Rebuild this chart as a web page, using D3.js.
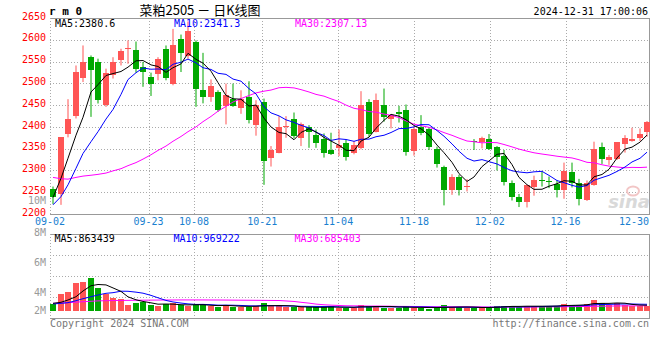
<!DOCTYPE html>
<html><head><meta charset="utf-8">
<script src="https://cdn.jsdelivr.net/npm/d3@7/dist/d3.min.js"></script>
<style>body{margin:0;background:#fff}svg{display:block}</style>
</head><body>
<svg id="c" width="660" height="360"></svg>
<script>
const dates = ["09-02","09-03","09-04","09-05","09-06","09-09","09-10","09-11","09-12","09-13","09-18","09-19","09-20","09-23","09-24","09-25","09-26","09-27","09-30",
"10-08","10-09","10-10","10-11","10-14","10-15","10-16","10-17","10-18","10-21","10-22","10-23","10-24","10-25","10-28","10-29","10-30","10-31",
"11-01","11-04","11-05","11-06","11-07","11-08","11-11","11-12","11-13","11-14","11-15","11-18","11-19","11-20","11-21","11-22","11-25","11-26","11-27","11-28","11-29",
"12-02","12-03","12-04","12-05","12-06","12-09","12-10","12-11","12-12","12-13","12-16","12-17","12-18","12-19","12-20","12-23","12-24","12-25","12-26","12-27","12-30","12-31"];
const open = [2258,2245.7,2383.6,2424.7,2513,2559.6,2548,2450,2520,2552.8,2578,2575.6,2537.5,2514,2522,2579.4,2498,2600.8,2562,2594.7,2484,2469,2479,2448.4,2465,2443.8,2469,2404,2456,2329.5,2341,2400,2417.9,2375,2400,2381,2372,2347,2350.8,2364,2339.4,2352.3,2456,2389,2450,2418,2434.7,2438.5,2344.7,2400.4,2395,2349,2307.4,2254,2285.3,2261,2368.4,2366,2372,2354.6,2334,2272.3,2240,2226.6,2262,2278.4,2276.9,2269.3,2254,2296,2270.8,2231,2265.5,2353,2324.2,2326.4,2360.7,2367.6,2375.2,2387.4];
const high = [2263,2376.7,2463.6,2541,2587,2564,2556.6,2533.7,2560,2579.4,2598.5,2596,2549,2524.6,2560,2587,2625,2612,2642,2598.5,2570,2509,2484,2499.4,2499.4,2484,2504.8,2461.3,2465,2356,2424.7,2424.7,2433,2410,2404,2394,2385,2386.6,2394,2370,2367.6,2482,2463.6,2476.6,2488,2428.6,2448.4,2451.4,2400.4,2427,2398,2354.6,2311,2291.4,2290,2280,2372,2377.5,2383.6,2356,2347,2277,2246,2267,2288,2297.5,2286,2277,2318,2318,2280.7,2277,2366,2364,2335.6,2364.5,2381,2398,2396.5,2413.3];
const low = [2223,2221,2376,2419.4,2503,2423,2453.7,2446,2511,2541,2545,2524.6,2492,2471,2507,2507,2495.6,2526,2556.6,2446,2454,2457.5,2434.7,2405.7,2446,2430,2408,2379.8,2267,2309,2339.4,2375,2373.7,2356,2352,2352,2329.5,2335.6,2333,2322.6,2337,2348.5,2377.5,2387.4,2412,2396.5,2410,2334,2334,2381,2347,2306.6,2219.8,2244,2242.6,2251.8,2347,2350.8,2347,2300,2265.5,2231,2216,2215,2242,2263,2259.4,2238,2235,2261,2219.8,2230,2265,2315,2312.7,2324,2341,2366,2367.6,2377.5];
const close = [2240,2376.7,2417.9,2526,2550,2530,2461,2523,2548,2574,2580,2533.7,2526,2498,2556,2512.4,2587,2569.5,2620,2486.5,2469,2494,2438.5,2473,2448.4,2463.6,2415.6,2450,2322.6,2347,2400.4,2402.6,2379.8,2406.5,2389,2364,2339.4,2338.6,2358.4,2332,2358.4,2450,2383,2461,2423,2427,2429.3,2341.7,2395,2385,2354.6,2315,2254,2284.5,2255.6,2264.7,2366,2373.7,2349,2332,2274.6,2238,2226.6,2265.5,2278,2276,2273,2255.6,2299.8,2270.8,2235,2272.3,2349.3,2326.4,2330.3,2364.5,2375,2371.4,2383.6,2411.8];
// volume in millions of lots
const volume = [0.97,2.58,2.90,4.31,4.46,5.09,3.52,2.58,1.96,1.74,0.86,1.22,1.29,0.86,0.70,0.97,1.13,0.86,0.70,0.86,0.97,0.70,0.59,0.86,0.59,0.59,0.59,0.70,1.17,0.70,0.70,0.50,0.50,0.50,0.50,0.50,0.50,0.70,0.44,0.44,0.44,0.86,0.70,0.70,0.44,0.44,0.44,0.70,0.44,0.44,0.28,0.44,0.86,0.55,0.55,0.35,0.35,0.55,0.55,0.70,0.70,0.70,0.55,0.70,0.70,0.70,0.70,0.70,1.02,0.86,0.86,1.02,1.64,1.17,0.86,1.17,0.86,0.70,0.70,0.70];
// moving-average values before a full window exists
const ma5Head = [2238,2282,2328,2381];
const ma10Head = [2221,2240,2267,2305,2339,2366,2389,2418,2440];
const ma30Head = [2284,2281,2280,2284,2287,2289,2291,2294,2299,2304,2311,2318,2326,2336,2346,2356,2367,2378,2389,2400,2412,2424,2436,2447,2457,2465,2472,2478,2482];
const volMa5Head = [1.12,1.28,1.64,2.15];
const volMa10Head = [1.01,1.12,1.22,1.53,1.84,2.15,2.42,2.68,2.78];
const volMa30Head = [1.12,1.17,1.22,1.30,1.37,1.44,1.50,1.53,1.55,1.57,1.58,1.60,1.61,1.62,1.63,1.64,1.64,1.65,1.65,1.65,1.65,1.64,1.64,1.63,1.62,1.61,1.60,1.59,1.58];
const priceTicks = [2650,2600,2550,2500,2450,2400,2350,2300,2250,2200];
const dateTicks = ["09-02","09-23","10-08","10-21","11-04","11-18","12-02","12-16","12-30"];
const volTicks = [8,6,4,2];
const volGrid = [6,4,2]; // panel divisions
const titleSym = "r m 0";
const titleName = "菜粕2505 － 日K线图";
const stamp = "2024-12-31 17:00:06";
const legendMain = [["MA5:2380.6","#000"],["MA10:2341.3","#0000ff"],["MA30:2307.13","#ff00ff"]];
const legendVol = [["MA5:863439","#000"],["MA10:969222","#0000ff"],["MA30:685403","#ff00ff"]];

function ma(arr, n, head){
  return arr.map((v,i)=> i < n-1 ? head[i] : d3.mean(arr.slice(i-n+1,i+1)));
}
const ma5 = ma(close,5,ma5Head), ma10 = ma(close,10,ma10Head), ma30 = ma(close,30,ma30Head);
const vma5 = ma(volume,5,volMa5Head), vma10 = ma(volume,10,volMa10Head), vma30 = ma(volume,30,volMa30Head);

const RED="#ff5555", GREEN="#00a800", GRID="#aaaaaa", BORDER="#999999";
const FONT="'DejaVu Sans Mono', monospace";
const svg = d3.select("#c");
const L=50, R=649, T=18, B=214, VT=234, VB=318, VBASE=310.5;

const x = d3.scaleBand().domain(dates).range([L, L+7.52*79.8]).paddingInner(0.2).paddingOuter(0);
const gx = d3.scalePoint().domain(dates).range([L, R]);
const y = d3.scaleLinear().domain([2200,2650]).range([B,T]);
const yv = d3.scaleLinear().domain([0,10]).range([VBASE, VBASE-64.1]);
const yvLab = d3.scaleLinear().domain([8,2]).range([232.5,322.5]);
const xc = i => Math.round(x(dates[i])) + 3;

// grids
const g = svg.append("g");
priceTicks.filter(v=>v<2650 && v>2200).forEach(v=>{
  const yy=Math.round(y(v))+0.5;
  g.append("line").attr("x1",L).attr("x2",R).attr("y1",yy).attr("y2",yy).attr("stroke",GRID).attr("stroke-dasharray","1,2");
});
volGrid.forEach((v,k)=>{
  const yy = Math.round(VT + (k+1)*(VB-VT)/4)+0.5;
  g.append("line").attr("x1",L).attr("x2",R).attr("y1",yy).attr("y2",yy).attr("stroke",GRID).attr("stroke-dasharray","1,2");
});
dateTicks.slice(1,-1).forEach(d=>{
  const xx=Math.round(gx(d))+0.5;
  g.append("line").attr("x1",xx).attr("x2",xx).attr("y1",T).attr("y2",B).attr("stroke",GRID).attr("stroke-dasharray","1,2");
  g.append("line").attr("x1",xx).attr("x2",xx).attr("y1",VT).attr("y2",VB).attr("stroke",GRID).attr("stroke-dasharray","1,2");
});
// borders
[[T,B],[VT,VB]].forEach(([a,b])=>{
  svg.append("line").attr("x1",L).attr("x2",R+1).attr("y1",a+0.5).attr("y2",a+0.5).attr("stroke",BORDER);
  svg.append("line").attr("x1",L).attr("x2",R+1).attr("y1",b+0.5).attr("y2",b+0.5).attr("stroke",BORDER);
  svg.append("line").attr("x1",L+0.5).attr("x2",L+0.5).attr("y1",a).attr("y2",b).attr("stroke",GRID).attr("stroke-dasharray","1,2");
  svg.append("line").attr("x1",R+0.5).attr("x2",R+0.5).attr("y1",a).attr("y2",b+1).attr("stroke",BORDER);
});

// watermark
const wm = svg.append("g");
wm.append("ellipse").attr("cx",633).attr("cy",191).attr("rx",6).attr("ry",4.5).attr("fill","none").attr("stroke","#f2c6c6").attr("stroke-width",2);
wm.append("text").attr("x",650).attr("y",208).attr("text-anchor","end").attr("font-family","'DejaVu Sans', sans-serif").attr("font-weight","bold").attr("font-style","italic").attr("font-size",18).attr("fill","#d9d9d9").text("sina");

// candles
const cg = svg.append("g");
dates.forEach((d,i)=>{
  const up = close[i] >= open[i];
  const col = up ? RED : GREEN;
  const bx = Math.round(x(d));
  cg.append("rect").attr("x",bx+2.5).attr("y",y(high[i])).attr("width",1).attr("height",Math.max(1,y(low[i])-y(high[i]))).attr("fill",col);
  const top = y(Math.max(open[i],close[i])), bot = y(Math.min(open[i],close[i]));
  cg.append("rect").attr("x",bx).attr("y",Math.round(top)).attr("width",6).attr("height",Math.max(1,Math.round(bot)-Math.round(top))).attr("fill",col);
  // volume
  const vt = Math.round(yv(volume[i]));
  cg.append("rect").attr("x",bx).attr("y",vt).attr("width",6).attr("height",Math.round(VBASE)-vt).attr("fill",col);
});

// MA lines
const line = (sc)=> d3.line().x((v,i)=>xc(i)).y(v=>sc(v));
[[ma30,"#ff00ff"],[ma10,"#0000ff"],[ma5,"#000"]].forEach(([s,c])=>{
  svg.append("path").attr("d",line(y)(s)).attr("fill","none").attr("stroke",c).attr("stroke-width",1);
});
[[vma30,"#ff00ff"],[vma10,"#0000ff"],[vma5,"#000"]].forEach(([s,c])=>{
  svg.append("path").attr("d",line(yv)(s)).attr("fill","none").attr("stroke",c).attr("stroke-width",1);
});

// texts
const txt = (xx,yy,s,col,anchor,size)=> svg.append("text").attr("x",xx).attr("y",yy).attr("fill",col)
  .attr("text-anchor",anchor||"start").attr("dominant-baseline","central").attr("font-family",FONT).attr("font-size",size||10).text(s);
priceTicks.forEach(v=> txt(46, y(v)-1.8, v, "#ff0000", "end"));
txt(46, 200.5, "10M", "#999999", "end");
dateTicks.forEach(d=>{
  const xx = gx(d);
  const w = 30;
  if (xx + w/2 > R) txt(R, 221.2, d, "#1a7fd0", "end");
  else txt(xx, 221.2, d, "#1a7fd0", "middle");
});
volTicks.forEach(v=> txt(46, Math.min(yvLab(v), 310.3), v+"M", "#999999", "end"));
const lx = [55,174,295];
legendMain.forEach(([s,c],k)=> txt(lx[k], 23.7, s, c));
legendVol.forEach(([s,c],k)=> txt(lx[k]-0.5, 238.3, s, c));
txt(50, 323.7, "Copyright 2024 SINA.COM", "#777777");
txt(649, 323.7, "http://finance.sina.com.cn", "#777777", "end");
txt(49, 11.5, titleSym, "#000", "start", 11).attr("font-weight","bold");
svg.append("text").attr("x",200).attr("y",9).attr("text-anchor","middle").attr("dominant-baseline","central")
  .attr("font-family","'Noto Sans CJK SC', sans-serif").attr("font-size",13).attr("fill","#000").text(titleName);
txt(648, 11, stamp, "#000", "end", 10);
</script>
</body></html>
